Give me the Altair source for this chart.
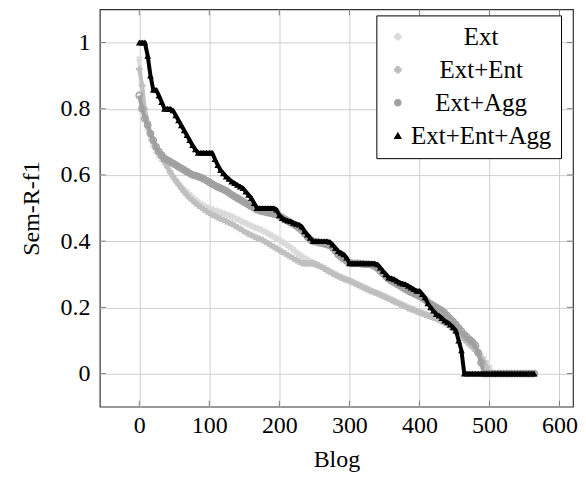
import altair as alt
import pandas as pd

# x positions (blog index)
blog = list(range(0, 565, 4))

series_names = ["Ext", "Ext+Ent", "Ext+Agg", "Ext+Ent+Agg"]

ext = [0.95, 0.85, 0.78, 0.74, 0.71, 0.69, 0.672, 0.658, 0.647, 0.636,
       0.625, 0.608, 0.594, 0.582, 0.572, 0.563, 0.556, 0.548, 0.54, 0.532,
       0.525, 0.518, 0.512, 0.507, 0.503, 0.499, 0.496, 0.493, 0.49, 0.487,
       0.484, 0.481, 0.478, 0.475, 0.47, 0.466, 0.462, 0.458, 0.454, 0.45,
       0.446, 0.442, 0.439, 0.436, 0.432, 0.428, 0.423, 0.418, 0.413, 0.408,
       0.403, 0.398, 0.393, 0.387, 0.381, 0.374, 0.367, 0.36, 0.354, 0.349,
       0.344, 0.339, 0.335, 0.331, 0.327, 0.323, 0.319, 0.315, 0.31, 0.305,
       0.3, 0.295, 0.291, 0.288, 0.285, 0.282, 0.278, 0.274, 0.27, 0.266,
       0.262, 0.258, 0.254, 0.25, 0.247, 0.244, 0.24, 0.236, 0.232, 0.228,
       0.224, 0.22, 0.216, 0.212, 0.208, 0.204, 0.2, 0.197, 0.194, 0.19,
       0.187, 0.184, 0.18, 0.177, 0.174, 0.171, 0.168, 0.165, 0.16, 0.155,
       0.15, 0.145, 0.138, 0.13, 0.122, 0.114, 0.106, 0.098, 0.09, 0.082,
       0.073, 0.064, 0.054, 0.044, 0.032, 0.018,
       0, 0, 0, 0, 0, 0, 0, 0, 0, 0, 0, 0, 0, 0, 0, 0]

ext_ent = [0.92, 0.87, 0.80, 0.76, 0.725, 0.70, 0.68, 0.665, 0.652, 0.64,
           0.625, 0.61, 0.596, 0.584, 0.572, 0.56, 0.549, 0.539, 0.53, 0.522,
           0.515, 0.508, 0.502, 0.496, 0.49, 0.485, 0.48, 0.476, 0.472, 0.468,
           0.464, 0.46, 0.456, 0.452, 0.447, 0.442, 0.437, 0.432, 0.427, 0.422,
           0.418, 0.414, 0.41, 0.407, 0.403, 0.398, 0.393, 0.388, 0.383, 0.378,
           0.373, 0.368, 0.363, 0.358, 0.353, 0.348, 0.343, 0.338, 0.334, 0.333,
           0.333, 0.333, 0.333, 0.33, 0.326, 0.322, 0.317, 0.312, 0.307, 0.302,
           0.298, 0.294, 0.29, 0.286, 0.283, 0.28, 0.276, 0.272, 0.268, 0.264,
           0.26, 0.256, 0.252, 0.248, 0.245, 0.242, 0.238, 0.234, 0.23, 0.226,
           0.222, 0.218, 0.214, 0.21, 0.206, 0.202, 0.198, 0.195, 0.192, 0.188,
           0.185, 0.182, 0.178, 0.175, 0.172, 0.169, 0.166, 0.162, 0.158, 0.153,
           0.148, 0.142, 0.135, 0.127, 0.119, 0.111, 0.103, 0.095, 0.087, 0.078,
           0.069, 0.059, 0.048, 0.036, 0.02,
           0, 0, 0, 0, 0, 0, 0, 0, 0, 0, 0, 0, 0, 0, 0, 0, 0]

ext_agg = [0.84, 0.80, 0.77, 0.75, 0.725, 0.705, 0.685, 0.67, 0.66, 0.65,
           0.645, 0.64, 0.635, 0.63, 0.625, 0.62, 0.615, 0.61, 0.605, 0.6,
           0.598, 0.595, 0.592, 0.588, 0.583, 0.578, 0.573, 0.568, 0.564, 0.56,
           0.556, 0.552, 0.546, 0.54, 0.535, 0.53, 0.525, 0.52, 0.515, 0.51,
           0.505, 0.5, 0.496, 0.492, 0.49, 0.488, 0.486, 0.484, 0.482, 0.48,
           0.476, 0.471, 0.466, 0.461, 0.456, 0.451, 0.446, 0.44, 0.432, 0.423,
           0.413, 0.405, 0.4, 0.398, 0.396, 0.394, 0.392, 0.39, 0.387, 0.38,
           0.37, 0.36, 0.352, 0.346, 0.34, 0.335, 0.333, 0.333, 0.333, 0.332,
           0.331, 0.33, 0.33, 0.328, 0.324, 0.318, 0.31, 0.302, 0.294, 0.286,
           0.28, 0.275, 0.27, 0.265, 0.26, 0.255, 0.25, 0.246, 0.242, 0.238,
           0.234, 0.229, 0.223, 0.216, 0.21, 0.205, 0.2, 0.195, 0.19, 0.183,
           0.175, 0.166, 0.157, 0.148, 0.138, 0.128, 0.118, 0.11, 0.102, 0.095,
           0.085, 0.063, 0.033,
           0, 0, 0, 0, 0, 0, 0, 0, 0, 0, 0, 0, 0, 0, 0, 0, 0, 0, 0]

ext_ent_agg = [1.0, 1.0, 1.0, 0.96, 0.90, 0.857, 0.857, 0.84, 0.82, 0.8,
               0.8, 0.8, 0.795, 0.78, 0.765, 0.75, 0.735, 0.72, 0.705, 0.69,
               0.677, 0.667, 0.667, 0.667, 0.667, 0.667, 0.667, 0.648, 0.63, 0.615,
               0.605, 0.595, 0.588, 0.58, 0.575, 0.57, 0.565, 0.56, 0.55, 0.54,
               0.53, 0.515, 0.5, 0.5, 0.5, 0.5, 0.5, 0.5, 0.5, 0.495,
               0.478, 0.47, 0.465, 0.462, 0.46, 0.455, 0.452, 0.45, 0.444, 0.43,
               0.42, 0.41, 0.4, 0.4, 0.4, 0.4, 0.4, 0.4, 0.398, 0.39,
               0.38, 0.37, 0.365, 0.36, 0.35, 0.333, 0.333, 0.333, 0.333, 0.333,
               0.333, 0.333, 0.333, 0.333, 0.333, 0.33, 0.32, 0.31, 0.3, 0.29,
               0.288, 0.285, 0.28, 0.275, 0.272, 0.27, 0.265, 0.26, 0.255, 0.25,
               0.25, 0.24, 0.23, 0.212, 0.2, 0.19, 0.18, 0.175, 0.168, 0.16,
               0.155, 0.148, 0.14, 0.13, 0.1, 0.07,
               0, 0, 0, 0, 0, 0, 0, 0, 0, 0, 0, 0, 0, 0, 0, 0, 0, 0, 0, 0,
               0, 0, 0, 0, 0, 0]

series_values = [ext, ext_ent, ext_agg, ext_ent_agg]
colors = ["#dadada", "#bfbfbf", "#a0a0a0", "#000000"]
shapes = ["cross", "cross", "circle", "triangle-up"]
filled = [True, True, False, True]
angles = [45, 0, 0, 0]
sizes = [45, 45, 40, 45]
line_widths = [4, 4, 4, 4]

x_ticks = [0, 100, 200, 300, 400, 500, 600]
y_ticks = [0, 0.2, 0.4, 0.6, 0.8, 1.0]

rows = []
for name, vals in zip(series_names, series_values):
    for b, v in zip(blog, vals):
        rows.append({"blog": b, "value": v, "series": name})
df = pd.DataFrame(rows)

FONT = "Liberation Serif"
W, H = 474, 398
TICK = 6

x_scale = alt.Scale(domain=[-56.3, 619.3], nice=False, zero=False)
y_scale = alt.Scale(domain=[-0.1, 1.1], nice=False, zero=False)
x_axis = alt.Axis(values=x_ticks, title="Blog", grid=True, ticks=False, domain=False,
                  labelFont=FONT, titleFont=FONT, labelPadding=7, titlePadding=10)
y_axis = alt.Axis(values=y_ticks, title="Sem-R-f1", grid=True, ticks=False, domain=False,
                  labelFont=FONT, titleFont=FONT,
                  format="~g", labelPadding=10, titlePadding=16)

color_scale = alt.Scale(domain=series_names, range=colors)
shape_scale = alt.Scale(domain=series_names, range=shapes)
legend = alt.Legend(orient="none", legendX=277, legendY=6, title=None,
                    labelFont=FONT, labelFontSize=25, labelColor="black",
                    labelAlign="center", labelOffset=71,
                    strokeColor="black", fillColor="white", padding=9,
                    rowPadding=7, symbolSize=40, symbolStrokeWidth=1.2,
                    cornerRadius=0)

base = alt.Chart(df)
layers = []
for i, name in enumerate(series_names):
    sub = base.transform_filter(alt.datum.series == name)
    line = sub.mark_line(color=colors[i], strokeWidth=line_widths[i],
                         strokeJoin="round").encode(
        x=alt.X("blog:Q", scale=x_scale, axis=x_axis),
        y=alt.Y("value:Q", scale=y_scale, axis=y_axis),
    )
    pts = sub.mark_point(filled=filled[i], size=sizes[i], angle=angles[i],
                         strokeWidth=1.5, opacity=1).encode(
        x=alt.X("blog:Q", scale=x_scale, axis=x_axis),
        y=alt.Y("value:Q", scale=y_scale, axis=y_axis),
        color=alt.Color("series:N", scale=color_scale, legend=legend),
        shape=alt.Shape("series:N", scale=shape_scale, legend=legend),
    )
    layers += [line, pts]

# inward tick marks on all four sides
xt = alt.Chart(pd.DataFrame({"blog": x_ticks}))
yt = alt.Chart(pd.DataFrame({"value": y_ticks}))
tick_color = "#808080"
ticks_bottom = xt.mark_rule(color=tick_color).encode(
    x=alt.X("blog:Q", scale=x_scale, axis=x_axis), y=alt.value(H), y2=alt.value(H - TICK))
ticks_top = xt.mark_rule(color=tick_color).encode(
    x=alt.X("blog:Q", scale=x_scale, axis=x_axis), y=alt.value(0), y2=alt.value(TICK))
ticks_left = yt.mark_rule(color=tick_color).encode(
    y=alt.Y("value:Q", scale=y_scale, axis=y_axis), x=alt.value(0), x2=alt.value(TICK))
ticks_right = yt.mark_rule(color=tick_color).encode(
    y=alt.Y("value:Q", scale=y_scale, axis=y_axis), x=alt.value(W - TICK), x2=alt.value(W))

chart = alt.layer(ticks_bottom, ticks_top, ticks_left, ticks_right, *layers).properties(
    width=W, height=H, padding={"top": 0, "left": 12, "right": 0, "bottom": 0}
).configure(
    font=FONT
).configure_view(
    stroke="#333333", strokeWidth=1.2
).configure_axis(
    labelFont=FONT, labelFontSize=24, labelColor="black",
    titleFont=FONT, titleFontSize=24, titleColor="black", titleFontWeight="normal",
    gridColor="#cfcfcf", gridWidth=1, gridOpacity=1
)

chart.save("out.html", embed_options={"renderer": "svg", "actions": False})
